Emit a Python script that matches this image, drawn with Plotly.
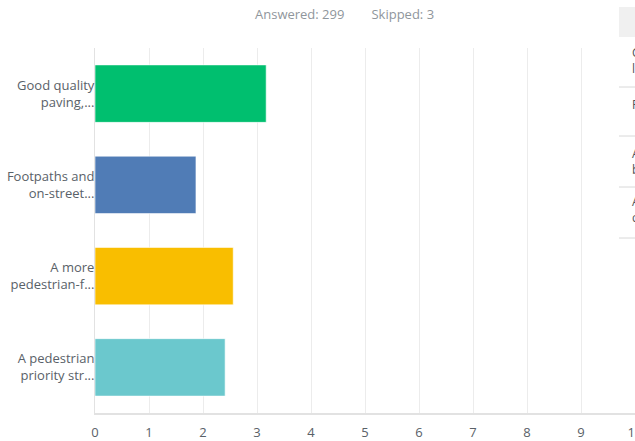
import plotly.graph_objects as go

labels = ["Good quality<br>paving,...", "Footpaths and<br>on-street...",
          "A more<br>pedestrian-f...", "A pedestrian<br>priority str..."]
scores = [3.17, 1.87, 2.56, 2.41]
colors = ["#00bf6f", "#507cb6", "#f9be00", "#6bc8cd"]
x_ticks = list(range(0, 11))
table_rows = [("Good quality paving,", "lighting"), ("Footpaths and", ""),
              ("A more pedestrian-friendly", "busy"), ("A pedestrian priority", "connecting")]

W, H = 635, 441
L, R, T, B = 95, 0, 48, 28
PW, PH = W - L - R, H - T - B


def px_x(v):
    # pixel -> paper coordinate (paper is the plot area)
    return (v - L) / PW


def px_y(v):
    return (H - B - v) / PH


fig = go.Figure(go.Bar(
    x=scores, y=labels, orientation="h",
    marker=dict(color=colors, line=dict(color="rgba(255,255,255,0.6)", width=1)),
    width=0.63, hoverinfo="skip",
))

fig.update_layout(
    width=W, height=H,
    margin=dict(l=L, r=R, t=T, b=B, autoexpand=False),
    plot_bgcolor="white", paper_bgcolor="white",
    showlegend=False,
    font=dict(family="Open Sans", color="#6b7379", size=12),
)
fig.update_xaxes(
    range=[0, 10], tickvals=x_ticks, showgrid=True, gridcolor="#ececec", gridwidth=1,
    zeroline=False, showline=True, linecolor="#e2e2e2", linewidth=2,
    tickfont=dict(size=13, color="#596168"), ticks="", fixedrange=True, automargin=False,
    ticklabeloverflow="allow", ticklabelstandoff=6,
)
fig.update_yaxes(
    autorange="reversed", showgrid=False, zeroline=False,
    showline=True, linecolor="#e2e2e2", linewidth=1, automargin=False,
    ticks="", tickfont=dict(size=13, color="#596168"),
    ticklabelstandoff=-3, fixedrange=True,
)

# header
fig.add_annotation(x=px_x(253), y=px_y(14), xref="paper", yref="paper", yanchor="middle",
                   xanchor="left", showarrow=False,
                   text="Answered: 299&nbsp;&nbsp;&nbsp;&nbsp;&nbsp;&nbsp;&nbsp;&nbsp;Skipped: 3",
                   font=dict(size=13, color="#8f969c"))

# partially visible table on the right
shapes = [dict(type="rect", xref="paper", yref="paper", x0=px_x(612), x1=px_x(640),
               y0=px_y(242), y1=px_y(-5), fillcolor="white", line=dict(width=0), layer="above"),
          dict(type="rect", xref="paper", yref="paper", x0=px_x(619), x1=px_x(640),
               y0=px_y(37), y1=px_y(7), fillcolor="#f0f0f0", line=dict(width=0), layer="above")]
for yy in [87, 136, 187, 238]:
    shapes.append(dict(type="line", xref="paper", yref="paper", x0=px_x(619), x1=px_x(640),
                       y0=px_y(yy), y1=px_y(yy), line=dict(color="#d8d8d8", width=1), layer="above"))
fig.update_layout(shapes=shapes)

row_tops = [42, 94, 143, 191]
for (a, b), top in zip(table_rows, row_tops):
    txt = a if not b else a + "<br>" + b
    fig.add_annotation(x=px_x(630), y=px_y(top), xref="paper", yref="paper",
                       xanchor="left", yanchor="top", showarrow=False, align="left",
                       text=txt, font=dict(size=12, color="#4d5358"))

fig.write_html("out.html", config={"displayModeBar": False},
               post_script="document.body.style.margin='0px';")
